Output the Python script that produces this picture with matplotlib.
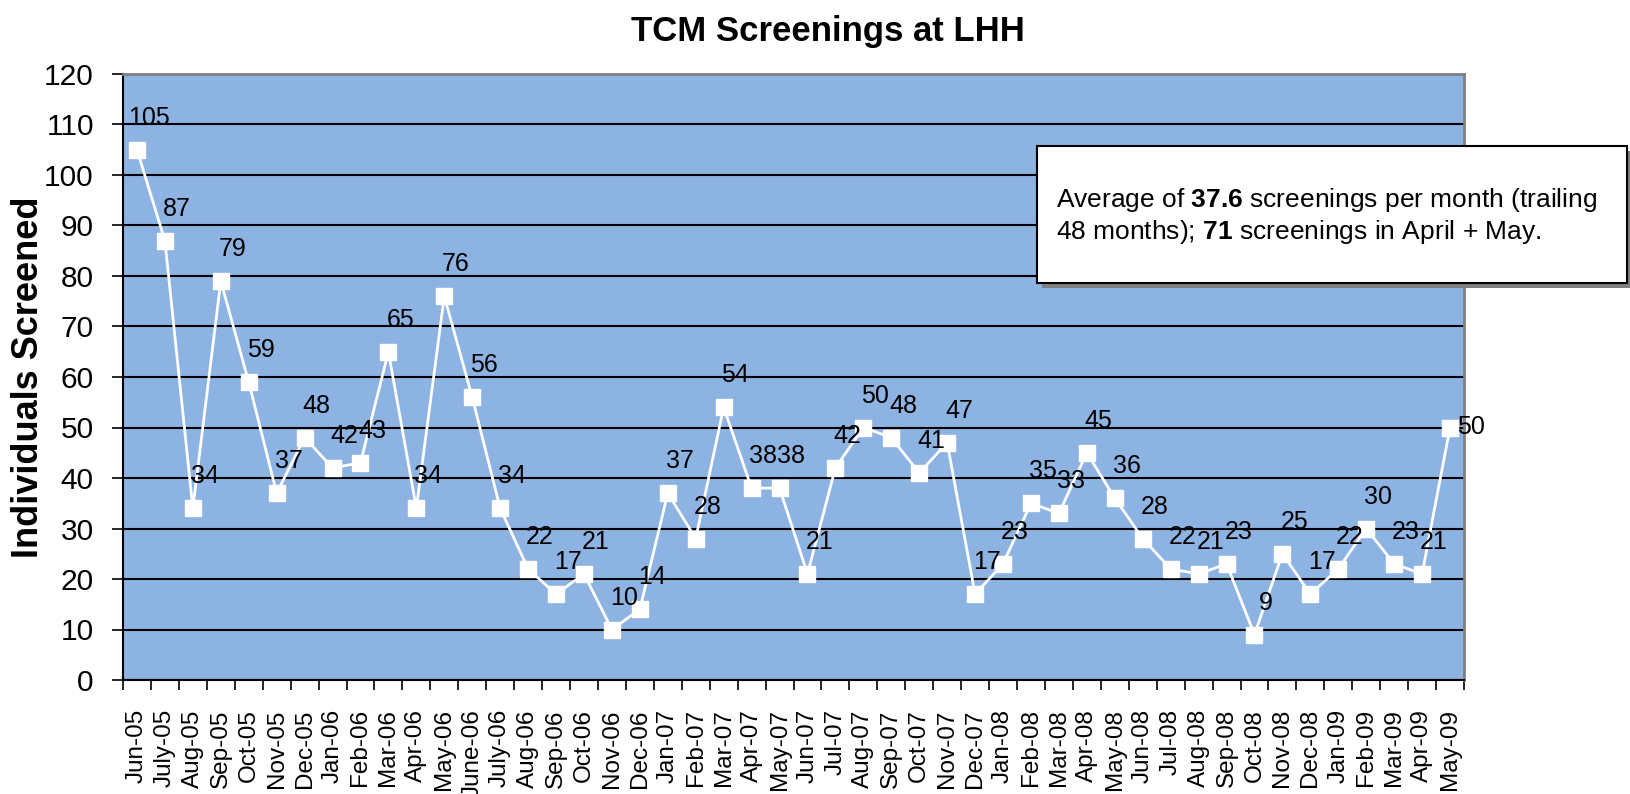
import matplotlib
matplotlib.use('Agg')
import matplotlib.pyplot as plt
from matplotlib.patches import Rectangle

months = ["Jun-05", "July-05", "Aug-05", "Sep-05", "Oct-05", "Nov-05", "Dec-05",
          "Jan-06", "Feb-06", "Mar-06", "Apr-06", "May-06", "June-06", "July-06",
          "Aug-06", "Sep-06", "Oct-06", "Nov-06", "Dec-06", "Jan-07", "Feb-07",
          "Mar-07", "Apr-07", "May-07", "Jun-07", "Jul-07", "Aug-07", "Sep-07",
          "Oct-07", "Nov-07", "Dec-07", "Jan-08", "Feb-08", "Mar-08", "Apr-08",
          "May-08", "Jun-08", "Jul-08", "Aug-08", "Sep-08", "Oct-08", "Nov-08",
          "Dec-08", "Jan-09", "Feb-09", "Mar-09", "Apr-09", "May-09"]
screened = [105, 87, 34, 79, 59, 37, 48, 42, 43, 65, 34, 76, 56, 34, 22, 17, 21,
            10, 14, 37, 28, 54, 38, 38, 21, 42, 50, 48, 41, 47, 17, 23, 35, 33,
            45, 36, 28, 22, 21, 23, 9, 25, 17, 22, 30, 23, 21, 50]
yticks = list(range(0, 121, 10))

plt.rcParams['font.family'] = ['Liberation Sans', 'DejaVu Sans']
plt.rcParams['mathtext.fontset'] = 'custom'
plt.rcParams['mathtext.rm'] = 'Liberation Sans'
plt.rcParams['mathtext.bf'] = 'Liberation Sans:bold'

fig = plt.figure(figsize=(16.3, 7.94), dpi=100)
ax = fig.add_axes([123/1630, 1 - 680/794, (1464-123)/1630, (680-74)/794])
ax.set_facecolor('#8DB3E2')

x = list(range(len(months)))
ax.plot(x, screened, color='white', lw=2, marker='s', markersize=12,
        markerfacecolor='white', markeredgecolor='white', zorder=3)

for i, v in enumerate(screened):
    if i == len(screened) - 1:
        off = (15, 0)
    else:
        off = (8.5, 23)
    ax.annotate(str(v), (i, v), xytext=off, textcoords='offset points',
                ha='center', va='center', fontsize=18, color='black', zorder=4)

ax.set_xlim(-0.5, len(months) - 0.5)
ax.set_ylim(0, 120)
ax.set_yticks(yticks)
ax.set_yticklabels([str(t) for t in yticks], fontsize=21.5)
ax.yaxis.grid(True, color='black', lw=1.5)
ax.set_axisbelow(True)

ax.set_xticks([i - 0.5 for i in range(len(months) + 1)])
ax.set_xticklabels([])
ax.set_xticks(x, minor=True)
ax.set_xticklabels(months, minor=True, rotation=90, fontsize=17.5)
ax.tick_params(axis='x', which='minor', length=0, pad=21)
ax.tick_params(axis='x', which='major', length=7, width=1.2)
ax.tick_params(axis='y', length=8, width=1.2, pad=13)

for s in ['left', 'bottom']:
    ax.spines[s].set_color('black')
    ax.spines[s].set_linewidth(1.5)
for s in ['top', 'right']:
    ax.spines[s].set_color('#808080')
    ax.spines[s].set_linewidth(2)

ax.set_ylabel("Individuals Screened", fontsize=26, fontweight='bold')
ax.yaxis.set_label_coords(-0.0574, 0.5)
fig.text(828/1630, 1 - 31/794, "TCM Screenings at LHH", ha='center', va='center',
         fontsize=25, fontweight='bold')

# note box with shadow
bx, by, bw, bh = 1037/1630, 1 - 283/794, 590/1630, 137/794
fig.patches.append(Rectangle((bx + 5/1630, by - 5/794), bw, bh, transform=fig.transFigure,
                             facecolor='#808080', edgecolor='none', zorder=5))
fig.patches.append(Rectangle((bx, by), bw, bh, transform=fig.transFigure,
                             facecolor='white', edgecolor='black', lw=1.5, zorder=6))
fig.text(1056/1630, 1 - 200/794, r"Average of $\bf{37.6}$ screenings per month (trailing",
         ha='left', va='center', fontsize=19, zorder=7)
fig.text(1056/1630, 1 - 232/794, r"48 months); $\bf{71}$ screenings in April + May.",
         ha='left', va='center', fontsize=19, zorder=7)

fig.savefig('out.png', dpi=100)
